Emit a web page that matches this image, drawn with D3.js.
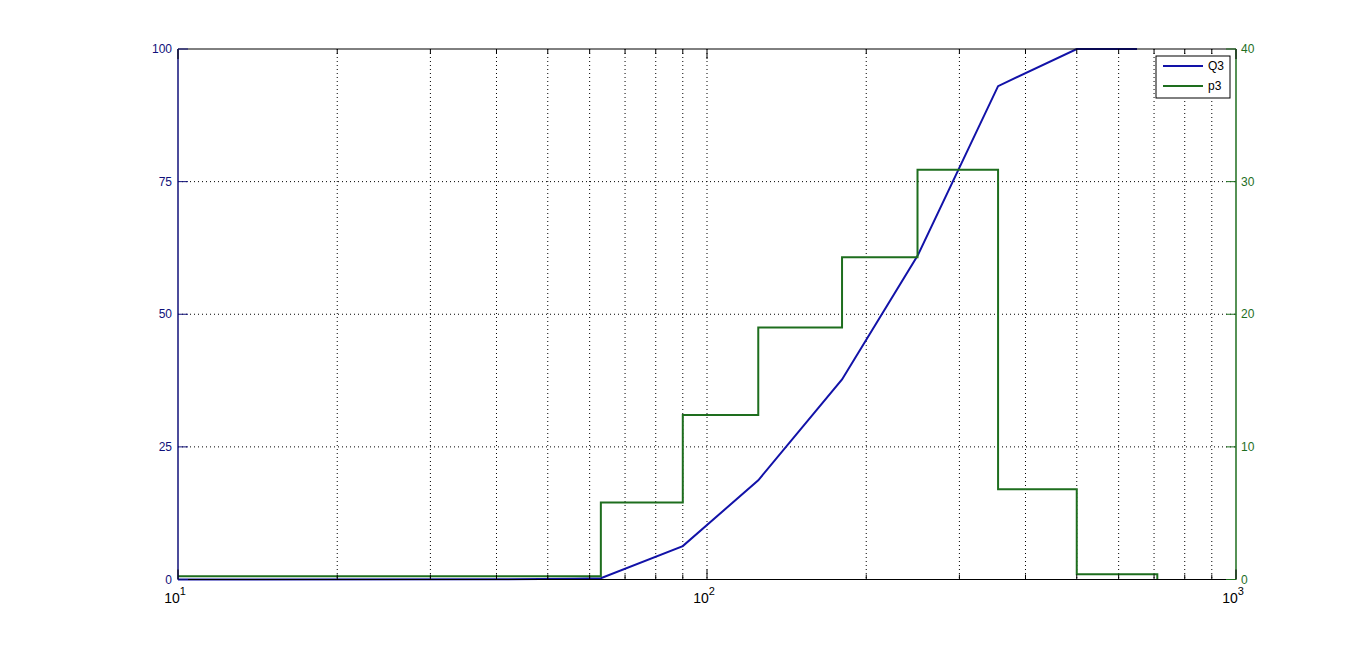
<!DOCTYPE html>
<html><head><meta charset="utf-8">
<script src="https://cdn.jsdelivr.net/npm/d3@7"></script>
<style>body{margin:0;background:#fff;} svg{display:block;}</style>
</head><body>
<svg id="c" width="1367" height="652"></svg>
<script>
// Data
const q3Sizes = [10, 40, 56, 63, 90, 125, 180, 250, 355, 500, 650];
const q3Values = [0, 0.05, 0.15, 0.25, 6.3, 18.7, 37.7, 61.0, 93.0, 100, 100];
const p3Edges = [10, 63, 90, 125, 180, 250, 355, 500, 710];
const p3Values = [0.25, 5.8, 12.4, 19.0, 24.3, 30.9, 6.8, 0.4, 0];
const leftTicks = [0, 25, 50, 75, 100];
const rightTicks = [0, 10, 20, 30, 40];
const xMajor = [10, 100, 1000];
const xMajorExp = ["1", "2", "3"];

const svg = d3.select("#c");
const L = 178, R = 1236, T = 49, B = 579.5;
const x = d3.scaleLog().domain([10, 1000]).range([L, R]);
const yL = d3.scaleLinear().domain([0, 100]).range([B, T]);
const yR = d3.scaleLinear().domain([0, 40]).range([B, T]);
const blue = "#1212a8", green = "#1e6e1e", navy = "#10107a";
const font = "Liberation Sans, Arial, sans-serif";

// grid
const minors = [];
[10, 100].forEach(d => { for (let k = 1; k <= 9; k++) minors.push(d * k); });
minors.push(1000);
const g = svg.append("g");
minors.filter(v => v > 10 && v < 1000).forEach(v => {
  g.append("line").attr("x1", x(v)).attr("x2", x(v)).attr("y1", T).attr("y2", B)
    .attr("stroke", "#000").attr("stroke-width", 1).attr("stroke-dasharray", "1,3");
});
leftTicks.filter(v => v > 0 && v < 100).forEach(v => {
  g.append("line").attr("x1", L).attr("x2", R).attr("y1", yL(v)).attr("y2", yL(v))
    .attr("stroke", "#000").attr("stroke-width", 1).attr("stroke-dasharray", "1,3");
});

// lines
const lineQ = d3.line().x(d => x(d[0])).y(d => yL(d[1]));
const lineP = d3.line().x(d => x(d[0])).y(d => yR(d[1])).curve(d3.curveStepAfter);
svg.append("path").datum(q3Sizes.map((s, i) => [s, q3Values[i]]))
  .attr("d", lineQ).attr("fill", "none").attr("stroke", blue).attr("stroke-width", 2);
svg.append("path").datum(p3Edges.map((s, i) => [s, p3Values[i]]))
  .attr("d", lineP).attr("fill", "none").attr("stroke", green).attr("stroke-width", 2);

// axes box
svg.append("line").attr("x1", L).attr("x2", R).attr("y1", T).attr("y2", T).attr("stroke", "#000");
svg.append("line").attr("x1", L).attr("x2", R).attr("y1", B).attr("y2", B).attr("stroke", "#000");
svg.append("line").attr("x1", L).attr("x2", L).attr("y1", T).attr("y2", B).attr("stroke", navy).attr("stroke-width", 1.5);
svg.append("line").attr("x1", R).attr("x2", R).attr("y1", T).attr("y2", B).attr("stroke", green).attr("stroke-width", 1.5);

// x ticks
minors.forEach(v => {
  const len = xMajor.includes(v) ? 10 : 5;
  svg.append("line").attr("x1", x(v)).attr("x2", x(v)).attr("y1", B).attr("y2", B - len).attr("stroke", "#000");
  svg.append("line").attr("x1", x(v)).attr("x2", x(v)).attr("y1", T).attr("y2", T + len).attr("stroke", "#000");
});
xMajor.forEach((v, i) => {
  const t = svg.append("text").attr("x", x(v) - 3).attr("y", 603).attr("text-anchor", "middle")
    .attr("font-family", font).attr("font-size", 14).attr("fill", "#000");
  t.append("tspan").text("10");
  t.append("tspan").attr("dy", -8).attr("font-size", 11).text(xMajorExp[i]);
});

// left ticks
leftTicks.forEach(v => {
  svg.append("line").attr("x1", L).attr("x2", L + 10).attr("y1", yL(v)).attr("y2", yL(v)).attr("stroke", navy);
  svg.append("text").attr("x", L - 6).attr("y", yL(v) + 4).attr("text-anchor", "end")
    .attr("font-family", font).attr("font-size", 12).attr("fill", navy).text(v);
});
// right ticks
rightTicks.forEach(v => {
  svg.append("line").attr("x1", R).attr("x2", R - 10).attr("y1", yR(v)).attr("y2", yR(v)).attr("stroke", green);
  svg.append("text").attr("x", R + 5).attr("y", yR(v) + 4).attr("text-anchor", "start")
    .attr("font-family", font).attr("font-size", 12).attr("fill", green).text(v);
});

// legend
const lg = svg.append("g");
lg.append("rect").attr("x", 1156).attr("y", 56).attr("width", 74).attr("height", 42)
  .attr("fill", "#fff").attr("stroke", "#000");
[["Q3", blue, 66], ["p3", green, 86]].forEach(([name, col, yy]) => {
  lg.append("line").attr("x1", 1163).attr("x2", 1203).attr("y1", yy).attr("y2", yy)
    .attr("stroke", col).attr("stroke-width", 2);
  lg.append("text").attr("x", 1208).attr("y", yy + 4).attr("font-family", font)
    .attr("font-size", 12).attr("fill", "#000").text(name);
});
</script>
</body></html>
